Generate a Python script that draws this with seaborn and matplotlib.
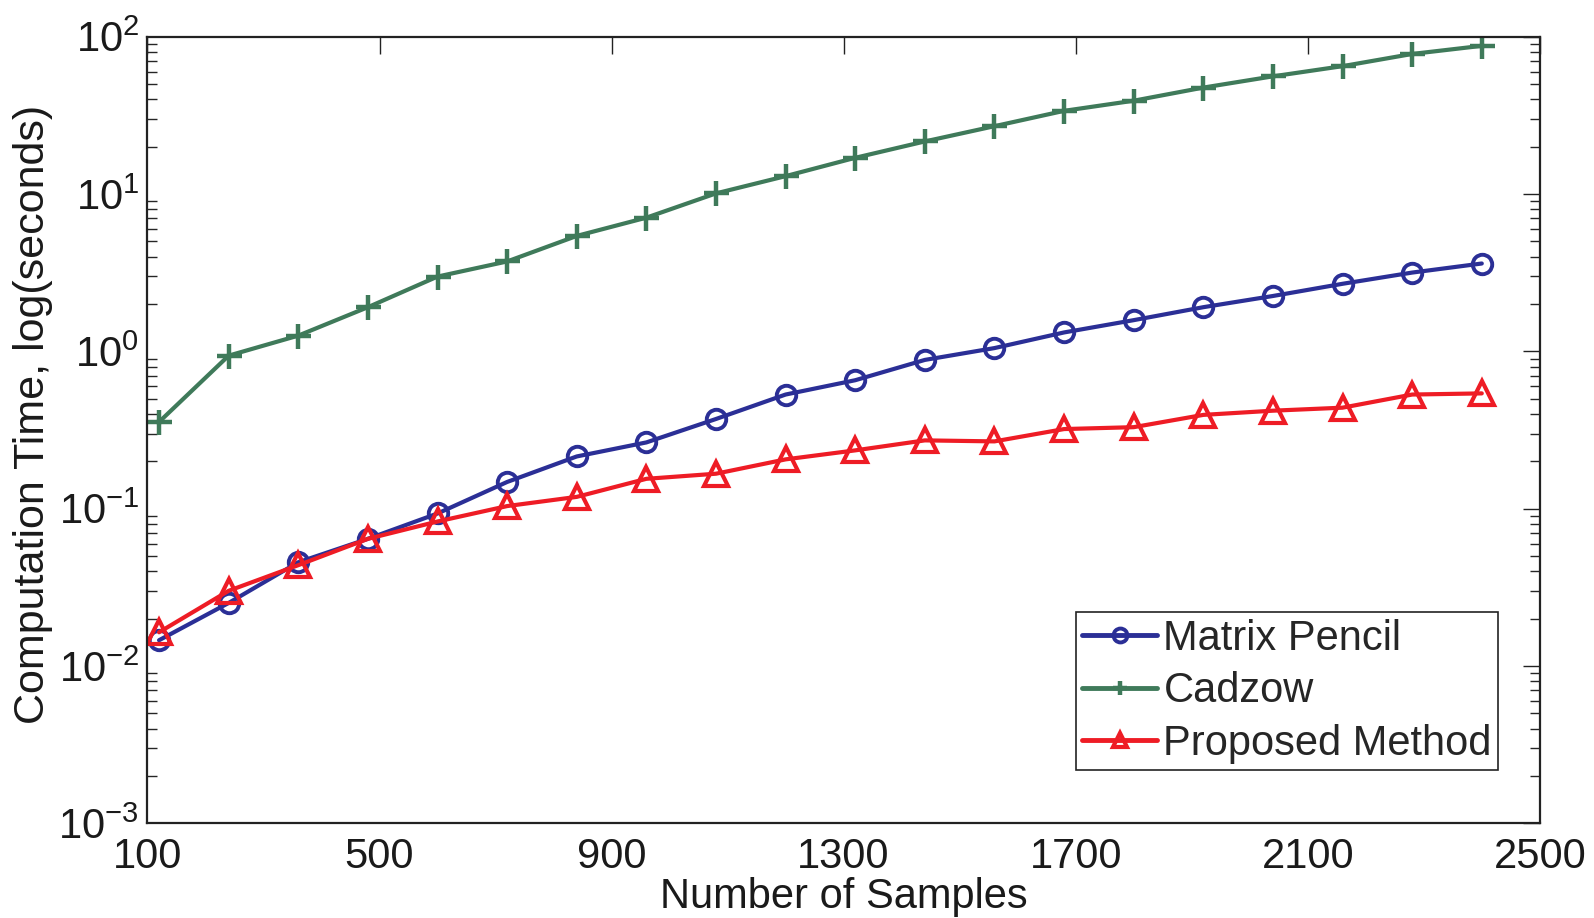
import matplotlib
matplotlib.use("Agg")
import matplotlib.pyplot as plt
import matplotlib.ticker as mticker
import numpy as np
import pandas as pd
import seaborn as sns

samples = [120, 240, 360, 480, 600, 720, 840, 960, 1080, 1200,
           1320, 1440, 1560, 1680, 1800, 1920, 2040, 2160, 2280, 2400]
matrix_pencil = [0.0146, 0.0252, 0.0457, 0.0644, 0.0933, 0.148, 0.215, 0.264, 0.372, 0.532,
                 0.656, 0.883, 1.05, 1.32, 1.58, 1.91, 2.25, 2.69, 3.17, 3.62]
cadzow = [0.356, 0.94, 1.26, 1.91, 2.99, 3.73, 5.42, 7.08, 10.1, 13.0,
          17.0, 21.6, 27.0, 33.8, 39.2, 47.5, 56.0, 65.0, 77.7, 87.5]
proposed = [0.0164, 0.0301, 0.0438, 0.0644, 0.083, 0.104, 0.119, 0.155, 0.167, 0.206,
            0.235, 0.272, 0.268, 0.321, 0.330, 0.395, 0.42, 0.439, 0.532, 0.541]
x_ticks = [100, 500, 900, 1300, 1700, 2100, 2500]

sns.set_theme(style="white")
plt.rcParams["font.family"] = ["Liberation Sans", "DejaVu Sans"]
plt.rcParams["mathtext.fontset"] = "custom"
plt.rcParams["mathtext.rm"] = "Liberation Sans"
plt.rcParams["mathtext.it"] = "Liberation Sans"
plt.rcParams["mathtext.default"] = "regular"

fig = plt.figure(figsize=(15.94, 9.18), dpi=100)
ax = fig.add_axes([0.0925, 0.103, 0.8735, 0.857])

df = pd.DataFrame({"Samples": samples, "Matrix Pencil": matrix_pencil,
                   "Cadzow": cadzow, "Proposed Method": proposed})

styles = {
    "Matrix Pencil": dict(color="#2b2f96", marker="o", markersize=14,
                          markerfacecolor="none", markeredgecolor="#2b2f96",
                          markeredgewidth=2.8),
    "Cadzow": dict(color="#3f7a5a", marker="+", markersize=18,
                   markeredgecolor="#3f7a5a", markeredgewidth=3.2),
    "Proposed Method": dict(color="#ee1c25", marker="^", markersize=17,
                            markerfacecolor="none", markeredgecolor="#ee1c25",
                            markeredgewidth=3.0),
}
for name, st in styles.items():
    sns.lineplot(data=df, x="Samples", y=name, ax=ax, label=name,
                 linewidth=3.0, linestyle="-", **st)

ax.set_yscale("log")
ax.set_xlim(100, 2500)
ax.set_ylim(1e-3, 1e2)
ax.set_xticks(x_ticks)
ax.set_xticklabels([str(v) for v in x_ticks])
ax.yaxis.set_major_locator(mticker.LogLocator(base=10, numticks=10))
ax.yaxis.set_minor_locator(mticker.LogLocator(base=10, subs=np.arange(2, 10), numticks=20))
ax.yaxis.set_major_formatter(mticker.FuncFormatter(lambda v, p: r"$10^{%d}$" % round(np.log10(v))))
ax.yaxis.set_minor_formatter(mticker.NullFormatter())

ax.tick_params(axis="both", which="major", direction="in", length=12, width=1.0,
               top=True, right=True, labelsize=30, colors="#222222")
ax.tick_params(axis="x", which="major", pad=10)
ax.tick_params(axis="y", which="major", pad=6)
ax.tick_params(axis="y", which="minor", direction="in", length=7, width=1.0,
               left=True, right=True)
for lab in ax.get_xticklabels() + ax.get_yticklabels():
    lab.set_color("#1a1a1a")

for sp in ax.spines.values():
    sp.set_color("#222222")
    sp.set_linewidth(1.6)

ax.set_xlabel("Number of Samples", fontsize=30, color="#1a1a1a", labelpad=0)
ax.set_ylabel("Computation Time, log(seconds)", fontsize=31, color="#1a1a1a")
ax.yaxis.set_label_coords(-0.068, 0.52)

leg = ax.legend(loc="lower right", bbox_to_anchor=(0.970, 0.068), fontsize=30,
                frameon=True, fancybox=False, edgecolor="#222222", framealpha=1,
                handlelength=1.8, handletextpad=0.15, borderpad=0.15, labelspacing=0.3,
                borderaxespad=0)
leg.get_frame().set_linewidth(1.2)
for h in leg.get_lines():
    h.set_linewidth(3.5)
    h.set_markersize(10)

fig.savefig("out.png", dpi=100)
